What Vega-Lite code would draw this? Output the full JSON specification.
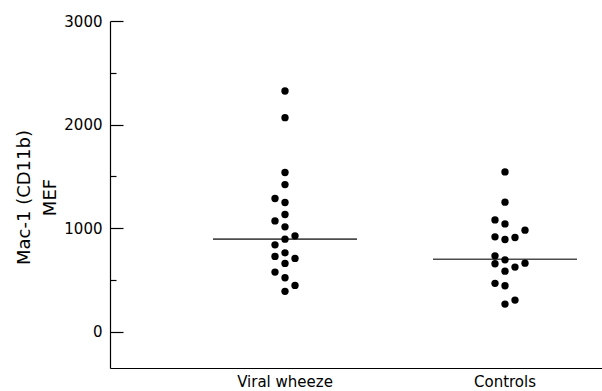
{
  "$schema": "https://vega.github.io/schema/vega-lite/v6.json",
  "width": 492,
  "height": 347,
  "autosize": {"type": "none"},
  "padding": {"left": 110, "top": 21, "right": 0, "bottom": 23},
  "background": "white",
  "config": {
    "view": {"stroke": null},
    "font": "DejaVu Sans"
  },
  "datasets": {
    "points": [
      {"group": "Viral wheeze", "col": 0, "mef": 2324},
      {"group": "Viral wheeze", "col": 0, "mef": 2067},
      {"group": "Viral wheeze", "col": 0, "mef": 1537},
      {"group": "Viral wheeze", "col": 0, "mef": 1421},
      {"group": "Viral wheeze", "col": -1, "mef": 1286},
      {"group": "Viral wheeze", "col": 0, "mef": 1248},
      {"group": "Viral wheeze", "col": 0, "mef": 1132},
      {"group": "Viral wheeze", "col": -1, "mef": 1070},
      {"group": "Viral wheeze", "col": 0, "mef": 1013},
      {"group": "Viral wheeze", "col": 1, "mef": 926},
      {"group": "Viral wheeze", "col": 0, "mef": 894},
      {"group": "Viral wheeze", "col": -1, "mef": 839},
      {"group": "Viral wheeze", "col": 0, "mef": 762},
      {"group": "Viral wheeze", "col": -1, "mef": 727},
      {"group": "Viral wheeze", "col": 1, "mef": 708},
      {"group": "Viral wheeze", "col": 0, "mef": 660},
      {"group": "Viral wheeze", "col": -1, "mef": 576},
      {"group": "Viral wheeze", "col": 0, "mef": 521},
      {"group": "Viral wheeze", "col": 1, "mef": 447},
      {"group": "Viral wheeze", "col": 0, "mef": 390},
      {"group": "Controls", "col": 0, "mef": 1543},
      {"group": "Controls", "col": 0, "mef": 1251},
      {"group": "Controls", "col": -1, "mef": 1080},
      {"group": "Controls", "col": 0, "mef": 1041},
      {"group": "Controls", "col": 2, "mef": 981},
      {"group": "Controls", "col": -1, "mef": 916},
      {"group": "Controls", "col": 1, "mef": 910},
      {"group": "Controls", "col": 0, "mef": 891},
      {"group": "Controls", "col": -1, "mef": 733},
      {"group": "Controls", "col": 0, "mef": 694},
      {"group": "Controls", "col": 2, "mef": 662},
      {"group": "Controls", "col": -1, "mef": 656},
      {"group": "Controls", "col": 1, "mef": 624},
      {"group": "Controls", "col": 0, "mef": 585},
      {"group": "Controls", "col": -1, "mef": 467},
      {"group": "Controls", "col": 0, "mef": 444},
      {"group": "Controls", "col": 1, "mef": 306},
      {"group": "Controls", "col": 0, "mef": 267}
    ],
    "medians": [
      {"group": "Viral wheeze", "mef": 894},
      {"group": "Controls", "mef": 700}
    ]
  },
  "layer": [
    {
      "data": {"name": "points"},
      "mark": {"type": "point", "filled": true, "color": "black", "opacity": 1, "size": 54, "shape": "circle"},
      "encoding": {
        "x": {
          "field": "group", "type": "nominal", "sort": ["Viral wheeze", "Controls"],
          "scale": {"paddingInner": 0.5, "paddingOuter": 0.3682, "align": 0.7407},
          "axis": {"title": null, "ticks": false, "labelAngle": 0, "labelFontSize": 15, "labelPadding": 6, "labelColor": "black", "domainColor": "black", "domainWidth": 1.2, "grid": false}
        },
        "xOffset": {"field": "col", "type": "quantitative", "scale": {"domain": [-5.5, 5.5]}},
        "y": {
          "field": "mef", "type": "quantitative",
          "scale": {"domain": [-350, 3000], "nice": false, "zero": false},
          "axis": {
            "title": ["Mac-1 (CD11b)", "MEF"],
            "titleFontSize": 18, "titleFontWeight": "normal", "titleColor": "black",
            "titleX": -86, "titleY": 176, "titleBaseline": "middle", "titleAlign": "center", "titleLineHeight": 26,
            "values": [0, 500, 1000, 1500, 2000, 2500, 3000],
            "labelExpr": "datum.value % 1000 === 0 ? datum.label : ''",
            "format": "d",
            "tickSize": {"condition": {"test": "datum.value % 1000 === 0", "value": -13}, "value": -6},
            "labelPadding": 21,
            "labelFontSize": 15, "labelColor": "black",
            "tickColor": "black", "tickWidth": 1.2, "domainColor": "black", "domainWidth": 1.2,
            "grid": false
          }
        }
      }
    },
    {
      "data": {"name": "medians"},
      "mark": {"type": "tick", "color": "black", "size": 144, "thickness": 1.6, "orient": "horizontal"},
      "encoding": {
        "x": {"field": "group", "type": "nominal", "sort": ["Viral wheeze", "Controls"]},
        "y": {"field": "mef", "type": "quantitative"}
      }
    }
  ]
}
